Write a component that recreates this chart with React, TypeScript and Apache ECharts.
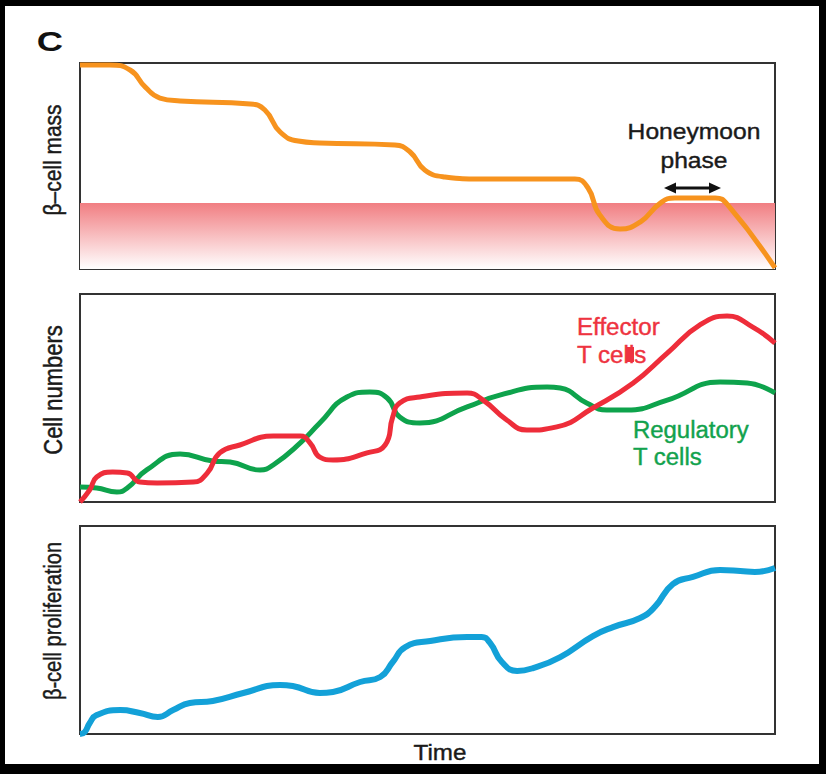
import React, { useEffect, useRef } from "react";
import * as echarts from "echarts";

// Panel 1: beta-cell mass (time 0-100, mass 0-100)
const massTime = [0, 4.3, 7.2, 9.4, 11.5, 14.4, 24.5, 26.6, 28.8, 31.4, 34.5, 45.3, 47.5, 49.6, 52.5, 57.6, 71.2, 73.1, 74.8, 77.7, 80.6, 83.5, 85.6, 91.4, 93.2, 100];
const massValue = [99, 99, 96.6, 88.3, 83, 81.6, 80.1, 77.2, 66.5, 62.1, 61.2, 60.2, 56.8, 48.1, 44.7, 43.7, 43.7, 39.3, 26.2, 19.4, 22.8, 32, 34.5, 34.5, 31.1, 0.5];
const thresholdTime = [0, 100];
const thresholdValue = [32, 32];

// Panel 2: cell numbers
const regTime = [0, 2.4, 5.3, 6.8, 9.6, 14.4, 19.1, 21.6, 25.9, 27.8, 31.7, 34.5, 38.4, 41.7, 44.2, 46, 48.9, 55.7, 60.4, 67.2, 69.1, 72.9, 75.8, 78.7, 84.5, 92.1, 96, 100];
const regValue = [7.2, 6.7, 4.8, 6.7, 15.4, 23.1, 19.7, 19.2, 15.4, 17.8, 28.4, 38, 50.5, 52.9, 50, 40.9, 38, 45.7, 51.4, 55.3, 54.8, 47.6, 44.2, 44.2, 49, 57.7, 57.2, 52.4];
const effTime = [0, 1.4, 2.4, 4.7, 6.8, 8.6, 11.1, 16.3, 18.3, 20.1, 23, 27.8, 31.7, 33.1, 34.5, 36.4, 41.3, 43.9, 45, 46, 48.9, 55.7, 58, 61.4, 64.3, 68.6, 73.8, 79.6, 84.5, 89.2, 93.1, 96.8, 100];
const effValue = [0, 5.8, 12, 14.4, 13.9, 9.6, 9.1, 9.6, 13.9, 23.6, 27.4, 31.7, 31.7, 28.4, 21.6, 20.2, 23.6, 27.4, 40.9, 47.6, 50.5, 52.4, 49, 39.4, 34.6, 36.1, 45.2, 57.2, 71.6, 85.1, 89.4, 84.1, 76.4];

// Panel 3: beta-cell proliferation
const prolTime = [0, 0.7, 1.4, 2.4, 5.8, 8.6, 11.2, 13.4, 15.8, 19.1, 23.5, 28.8, 30.6, 34.5, 36.4, 40.3, 43.2, 45, 46.8, 50.4, 55.7, 57.8, 59, 60.7, 62.9, 65.2, 69.1, 73.8, 76.7, 80.6, 82.7, 85.3, 88.2, 92.1, 95, 97.1, 100];
const prolValue = [0, 1, 5.3, 9.1, 11.5, 10.1, 8.2, 11.5, 14.9, 15.9, 19.7, 23.6, 23.1, 19.7, 20.2, 25, 27.4, 34.6, 41.8, 44.7, 46.6, 46.6, 43.8, 34.6, 30.3, 31.7, 37, 47.1, 51.4, 55.8, 61.1, 72.1, 75.5, 78.8, 78.4, 77.9, 79.8];

const panelLabels = ["β–cell mass", "Cell numbers", "β-cell proliferation"];
const effectorLabel = ["Effector", "T cells"];
const regulatoryLabel = ["Regulatory", "T cells"];
const honeymoonLabel = ["Honeymoon", "phase"];
const timeLabel = "Time";
const panelLetter = "C";

const pairs = (t: number[], v: number[]) => t.map((x, i) => [x, v[i]]);

const FONT = "'Liberation Sans', Arial, Helvetica, sans-serif";

export default function App() {
  const ref = useRef<HTMLDivElement>(null);
  useEffect(() => {
    const chart = echarts.init(ref.current!, null, { renderer: "svg" });
    const grids = [
      { left: 80, top: 63, width: 695, height: 206 },
      { left: 80, top: 294, width: 695, height: 208 },
      { left: 80, top: 526, width: 695, height: 208 },
    ].map((g) => ({ ...g, show: true, borderColor: "#333", borderWidth: 2, backgroundColor: "transparent" }));

    const xAxis = [0, 1, 2].map((i) => ({
      type: "value", gridIndex: i, min: 0, max: 100,
      axisLine: { show: false }, axisTick: { show: false }, axisLabel: { show: false }, splitLine: { show: false },
    }));
    const yAxis = [0, 1, 2].map((i) => ({
      type: "value", gridIndex: i, min: 0, max: 100,
      axisLine: { show: false }, axisTick: { show: false }, axisLabel: { show: false }, splitLine: { show: false },
    }));

    const lineBase = { type: "line", showSymbol: false, symbol: "none", smooth: 0.5 };

    const texts: any[] = [];
    const addText = (text: string, x: number, y: number, size: number, fill: string, extra: any = {}) => {
      const { weight, align, ...rest } = extra;
      texts.push({
        type: "text", x, y, z: 50, ...rest,
        style: {
          text, fill, fontSize: size, fontFamily: FONT, fontWeight: weight || "normal",
          align: align || "center", verticalAlign: "middle",
          stroke: fill, lineWidth: weight === "bold" ? 0 : 0.4,
        },
      });
    };

    addText(panelLetter, 50, 42, 28, "#111", { weight: "bold", scaleX: 1.3 });
    addText(panelLabels[0], 53, 160, 21, "#1a1a1a", { rotation: Math.PI / 2, scaleY: 1.15 });
    addText(panelLabels[1], 53, 390, 22, "#1a1a1a", { rotation: Math.PI / 2, scaleY: 1.15 });
    addText(panelLabels[2], 53, 621, 20, "#1a1a1a", { rotation: Math.PI / 2, scaleY: 1.15 });
    addText(honeymoonLabel[0], 694, 131, 22, "#1a1a1a", { scaleX: 1.12 });
    addText(honeymoonLabel[1], 694, 160, 22, "#1a1a1a", { scaleX: 1.12 });
    addText(effectorLabel[0], 577, 327, 23, "#EE3340", { align: "left", scaleX: 1.05 });
    addText(effectorLabel[1], 577, 355, 23, "#EE3340", { align: "left", scaleX: 1.05 });
    addText(regulatoryLabel[0], 633, 430, 23, "#12A24D", { align: "left", scaleX: 1.04 });
    addText(regulatoryLabel[1], 633, 457, 23, "#12A24D", { align: "left", scaleX: 1.04 });
    addText(timeLabel, 440, 752, 22, "#1a1a1a", { scaleX: 1.1 });

    const graphic: any[] = [
      ...texts,
      // artifact block over "ll" of Effector T cells
      { type: "rect", z: 51, shape: { x: 626, y: 347, width: 8, height: 15 }, style: { fill: "#EE3340" } },
      // honeymoon double arrow
      { type: "line", z: 50, shape: { x1: 672, y1: 188, x2: 713, y2: 188 }, style: { stroke: "#111", lineWidth: 3 } },
      { type: "polygon", z: 50, shape: { points: [[664, 188], [676, 182.5], [676, 193.5]] }, style: { fill: "#111" } },
      { type: "polygon", z: 50, shape: { points: [[721, 188], [709, 182.5], [709, 193.5]] }, style: { fill: "#111" } },
      // black frame
      { type: "rect", z: 100, shape: { x: 0, y: 0, width: 826, height: 6 }, style: { fill: "#000" } },
      { type: "rect", z: 100, shape: { x: 0, y: 0, width: 5, height: 774 }, style: { fill: "#000" } },
      { type: "rect", z: 100, shape: { x: 819, y: 0, width: 7, height: 774 }, style: { fill: "#000" } },
      { type: "rect", z: 100, shape: { x: 0, y: 764, width: 826, height: 10 }, style: { fill: "#000" } },
    ];

    const option: any = {
      animation: false,
      backgroundColor: "#fff",
      grid: grids,
      xAxis,
      yAxis,
      series: [
        {
          type: "line", xAxisIndex: 0, yAxisIndex: 0, showSymbol: false, symbol: "none", z: 1,
          data: pairs(thresholdTime, thresholdValue),
          lineStyle: { width: 0, opacity: 0 },
          areaStyle: {
            opacity: 1,
            color: new echarts.graphic.LinearGradient(0, 0, 0, 1, [
              { offset: 0, color: "#F17E82" },
              { offset: 1, color: "#FFFFFF" },
            ]),
          },
        },
        { ...lineBase, xAxisIndex: 0, yAxisIndex: 0, z: 3, data: pairs(massTime, massValue), lineStyle: { color: "#F7931E", width: 5 } },
        { ...lineBase, xAxisIndex: 1, yAxisIndex: 1, z: 3, data: pairs(regTime, regValue), lineStyle: { color: "#0EA34C", width: 5 } },
        { ...lineBase, xAxisIndex: 1, yAxisIndex: 1, z: 4, data: pairs(effTime, effValue), lineStyle: { color: "#EE2D3A", width: 5 } },
        { ...lineBase, xAxisIndex: 2, yAxisIndex: 2, z: 3, data: pairs(prolTime, prolValue), lineStyle: { color: "#13A1D8", width: 6 } },
      ],
      graphic,
    };
    chart.setOption(option);
    return () => chart.dispose();
  }, []);
  return <div ref={ref} style={{ position: "fixed", left: 0, top: 0, width: 826, height: 774, background: "#fff" }} />;
}
